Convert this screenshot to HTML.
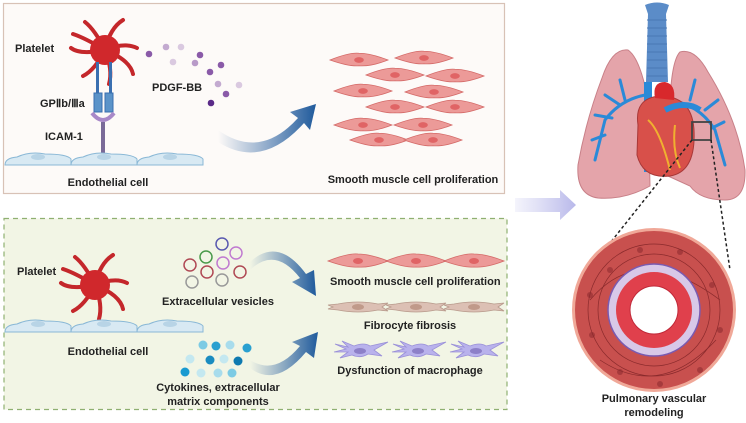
<!DOCTYPE html>
<html><head><meta charset="utf-8"><style>
html,body{margin:0;padding:0;background:#fff;}
svg{display:block;}
text{font-family:"Liberation Sans",sans-serif;font-weight:bold;fill:#222;}
</style></head><body>
<svg width="746" height="423" viewBox="0 0 746 423" xmlns="http://www.w3.org/2000/svg">
<defs>
<symbol id="smc" viewBox="-30 -8 60 16" overflow="visible">
<path d="M-30 0 Q-10 -8 0 -7 Q12 -7 30 0 Q12 7 0 6 Q-10 7 -30 0Z" fill="#ec9a98" stroke="#d46a68" stroke-width="0.8"/>
<ellipse cx="0" cy="0" rx="5" ry="3" fill="#e06465"/>
</symbol>
<symbol id="fib" viewBox="-30 -8 60 16" overflow="visible">
<path d="M-30 -2 L-20 -3 Q0 -7 20 -3 L30 -4 L24 0 L30 4 L20 3 Q0 7 -20 3 L-30 2 L-25 0Z" fill="#dcc0b4" stroke="#b89a8c" stroke-width="0.8"/>
<ellipse cx="0" cy="0" rx="6" ry="3" fill="#c09a8a"/>
</symbol>
<symbol id="mac" viewBox="-30 -10 60 20" overflow="visible">
<path d="M-25 -6 L-12 -3 L-18 -9 L-6 -4 Q4 -8 10 -4 L28 -8 L14 0 L22 6 L8 4 Q0 9 -8 5 L-20 8 L-12 2 L-26 2 L-14 -1Z" fill="#b9b2ec" stroke="#9a90d8" stroke-width="0.8"/>
<ellipse cx="0" cy="1" rx="6" ry="3" fill="#8d80c8"/>
</symbol>
<g id="endo">
<path d="M0 14 Q0 7 12 6 Q25 0 40 3 Q62 3 66 8 L66 14Z" fill="#d8e9f3" stroke="#8ab8d6"/>
<path d="M66 14 Q66 7 78 6 Q91 0 106 3 Q128 3 132 8 L132 14Z" fill="#d8e9f3" stroke="#8ab8d6"/>
<path d="M132 14 Q132 7 144 6 Q157 0 172 3 Q194 3 198 8 L198 14Z" fill="#d8e9f3" stroke="#8ab8d6"/>
<ellipse cx="33" cy="6" rx="7" ry="3" fill="#b8d4e6"/><ellipse cx="99" cy="6" rx="7" ry="3" fill="#b8d4e6"/><ellipse cx="165" cy="6" rx="7" ry="3" fill="#b8d4e6"/>
</g>
<symbol id="plt" viewBox="-40 -40 80 80" overflow="visible">
<g stroke="#c4272b" stroke-width="4" fill="none" stroke-linecap="round">
<path d="M0 0 Q-10 -20 -20 -28"/><path d="M0 0 Q5 -22 18 -30"/><path d="M0 0 Q20 -8 32 -2"/>
<path d="M0 0 Q25 10 28 24"/><path d="M0 0 Q8 20 4 34"/><path d="M0 0 Q-10 20 -22 26"/>
<path d="M0 0 Q-25 5 -34 -2"/><path d="M0 0 Q-20 -12 -32 -16"/>
</g>
<circle r="15" fill="#d0282c"/>
</symbol>
<linearGradient id="ag" x1="0" y1="0" x2="1" y2="0"><stop offset="0" stop-color="#2a5fa0" stop-opacity="0"/><stop offset="1" stop-color="#1f5a9c"/></linearGradient>
<linearGradient id="big" x1="0" y1="0" x2="1" y2="0"><stop offset="0" stop-color="#c8c8ee" stop-opacity="0.2"/><stop offset="1" stop-color="#b8b8ea"/></linearGradient>
</defs>

<!-- top box -->
<rect x="3.5" y="3.5" width="501" height="190" fill="#fdfaf8" stroke="#d8c2b6" stroke-width="1.2"/>
<use href="#plt" x="65" y="10" width="80" height="80"/>
<rect x="96" y="62" width="3" height="32" fill="#3a6fb0"/><rect x="109" y="62" width="3" height="32" fill="#3a6fb0"/>
<rect x="94" y="93" width="8" height="19" fill="#5b93c9" stroke="#3a6fb0"/><rect x="105" y="93" width="8" height="19" fill="#5b93c9" stroke="#3a6fb0"/>
<path d="M92 113 Q103 127 114 113" fill="none" stroke="#a888c8" stroke-width="4"/>
<rect x="101" y="122" width="4" height="31" fill="#7a6a98"/>
<use href="#endo" x="5" y="151"/>
<text x="15" y="52" font-size="11">Platelet</text>
<text x="40" y="107" font-size="11">GPⅡb/Ⅲa</text>
<text x="45" y="140" font-size="11">ICAM-1</text>
<text x="152" y="91" font-size="11">PDGF-BB</text>
<text x="108" y="186" font-size="11" text-anchor="middle">Endothelial cell</text>
<g fill="#8a5aa8">
<circle cx="149" cy="54" r="3.3"/><circle cx="166" cy="47" r="3.3" opacity=".5"/><circle cx="181" cy="47" r="3.3" opacity=".3"/><circle cx="200" cy="55" r="3.3"/>
<circle cx="173" cy="62" r="3.3" opacity=".3"/><circle cx="195" cy="63" r="3.3" opacity=".6"/><circle cx="221" cy="65" r="3.3"/><circle cx="210" cy="72" r="3.3"/>
<circle cx="218" cy="84" r="3.3" opacity=".5"/><circle cx="239" cy="85" r="3.3" opacity=".3"/><circle cx="226" cy="94" r="3.3"/><circle cx="211" cy="103" r="3.3" fill="#5a2a88"/>
</g>
<path d="M218 130 Q260 160 298 118 L290 112 L316 104 L310 130 L304 123 Q262 170 218 142Z" fill="url(#ag)"/>
<use href="#smc" x="330" y="52" width="58" height="16"/><use href="#smc" x="395" y="50" width="58" height="16"/>
<use href="#smc" x="366" y="67" width="58" height="16"/><use href="#smc" x="426" y="68" width="58" height="16"/>
<use href="#smc" x="334" y="83" width="58" height="16"/><use href="#smc" x="405" y="84" width="58" height="16"/>
<use href="#smc" x="366" y="99" width="58" height="16"/><use href="#smc" x="426" y="99" width="58" height="16"/>
<use href="#smc" x="334" y="117" width="58" height="16"/><use href="#smc" x="394" y="117" width="58" height="16"/>
<use href="#smc" x="350" y="132" width="58" height="16"/><use href="#smc" x="404" y="132" width="58" height="16"/>
<text x="413" y="183" font-size="11" text-anchor="middle">Smooth muscle cell proliferation</text>

<!-- big arrow -->
<path d="M515 198 L560 198 L560 190 L576 205 L560 220 L560 212 L515 212Z" fill="url(#big)"/>

<!-- bottom box -->
<rect x="4" y="218.5" width="503" height="191" fill="#f2f5e5" stroke="#8fb071" stroke-width="1.2" stroke-dasharray="5,4"/>
<use href="#plt" x="55" y="245" width="80" height="80"/>
<use href="#endo" x="5" y="318"/>
<text x="17" y="275" font-size="11">Platelet</text>
<text x="108" y="355" font-size="11" text-anchor="middle">Endothelial cell</text>
<g fill="none" stroke-width="1.5">
<circle cx="222" cy="244" r="6" stroke="#5a5ab0"/><circle cx="206" cy="257" r="6" stroke="#4a9a4a"/><circle cx="236" cy="253" r="6" stroke="#c07ad0"/>
<circle cx="190" cy="265" r="6" stroke="#b04a55"/><circle cx="207" cy="272" r="6" stroke="#b04a55"/><circle cx="223" cy="263" r="6" stroke="#c07ad0"/>
<circle cx="240" cy="272" r="6" stroke="#b04a55"/><circle cx="192" cy="282" r="6" stroke="#999"/><circle cx="222" cy="280" r="6" stroke="#999"/>
</g>
<text x="218" y="305" font-size="11" text-anchor="middle">Extracellular vesicles</text>
<g>
<circle cx="203" cy="345" r="4.5" fill="#7ccbe4"/><circle cx="216" cy="346" r="4.5" fill="#2aa0d0"/><circle cx="230" cy="345" r="4.5" fill="#a8dcec"/><circle cx="247" cy="348" r="4.5" fill="#2aa0d0"/>
<circle cx="190" cy="359" r="4.5" fill="#c4e8f0"/><circle cx="210" cy="360" r="4.5" fill="#1a8cc0"/><circle cx="224" cy="359" r="4.5" fill="#c4e8f0"/><circle cx="238" cy="361" r="4.5" fill="#0e7ab0"/>
<circle cx="185" cy="372" r="4.5" fill="#1a9ad0"/><circle cx="201" cy="373" r="4.5" fill="#c4e8f0"/><circle cx="218" cy="373" r="4.5" fill="#a8dcec"/><circle cx="232" cy="373" r="4.5" fill="#7ccbe4"/>
</g>
<text x="218" y="391" font-size="11" text-anchor="middle">Cytokines, extracellular</text>
<text x="218" y="405" font-size="11" text-anchor="middle">matrix components</text>
<path d="M250 270 Q275 246 300 278 L292 282 L316 296 L314 270 L306 274 Q278 236 250 262Z" fill="url(#ag)"/>
<path d="M250 360 Q275 376 300 346 L292 342 L318 332 L314 358 L306 352 Q276 388 250 368Z" fill="url(#ag)"/>
<use href="#smc" x="328" y="253" width="60" height="16"/><use href="#smc" x="386" y="253" width="60" height="16"/><use href="#smc" x="444" y="253" width="60" height="16"/>
<text x="330" y="285" font-size="11">Smooth muscle cell proliferation</text>
<use href="#fib" x="328" y="299" width="60" height="16"/><use href="#fib" x="386" y="299" width="60" height="16"/><use href="#fib" x="444" y="299" width="60" height="16"/>
<text x="410" y="329" font-size="11" text-anchor="middle">Fibrocyte fibrosis</text>
<use href="#mac" x="330" y="340" width="60" height="20"/><use href="#mac" x="388" y="340" width="60" height="20"/><use href="#mac" x="446" y="340" width="60" height="20"/>
<text x="410" y="374" font-size="11" text-anchor="middle">Dysfunction of macrophage</text>

<!-- lungs -->
<path d="M628 50 Q612 48 602 78 Q586 120 578 165 Q576 195 598 198 Q625 200 650 186 L648 100 Q640 58 628 50Z" fill="#e4a4aa" stroke="#c88088"/>
<path d="M680 52 Q695 48 708 72 Q738 120 745 170 Q746 200 725 200 Q700 200 690 186 L668 176 L670 100 Q672 60 680 52Z" fill="#e4a4aa" stroke="#c88088"/>
<path d="M645 5 Q657 0 669 5 L666 14 L668 82 L646 82 L648 14Z" fill="#5b8cc8"/>
<g stroke="#4a78b4" stroke-width="1">
<line x1="647" y1="20" x2="667" y2="20"/><line x1="647" y1="28" x2="667" y2="28"/><line x1="647" y1="36" x2="667" y2="36"/><line x1="647" y1="44" x2="667" y2="44"/><line x1="647" y1="52" x2="667" y2="52"/><line x1="647" y1="60" x2="667" y2="60"/><line x1="647" y1="68" x2="667" y2="68"/><line x1="647" y1="76" x2="667" y2="76"/>
</g>
<g stroke="#2a8ad8" stroke-width="3" fill="none" stroke-linecap="round">
<path d="M645 95 Q620 100 605 120 L595 160"/><path d="M620 105 L605 95"/><path d="M612 118 L595 115"/><path d="M605 135 L592 140"/><path d="M625 100 L620 80"/>
<path d="M670 100 Q700 105 715 130 L725 165"/><path d="M690 100 L695 80"/><path d="M705 110 L718 100"/><path d="M712 128 L724 122"/>
<rect x="644" y="82" width="8" height="90" fill="#2a8ad8" stroke="none"/>
</g>
<path d="M638 125 Q634 98 660 96 Q692 96 694 130 Q696 172 670 176 Q643 179 637 155Z" fill="#d8504a" stroke="#a83838"/>
<path d="M648 120 Q660 130 670 170 M675 125 Q672 150 680 168" stroke="#f0b030" stroke-width="2" fill="none"/>
<path d="M655 98 Q652 82 665 82 Q676 84 674 100Z" fill="#d8282c"/>
<path d="M665 110 Q685 100 700 110" stroke="#2a8ad8" stroke-width="6" fill="none"/>
<rect x="692" y="122" width="19" height="18" fill="none" stroke="#444" stroke-width="1.8"/>
<line x1="692" y1="140" x2="587" y2="272" stroke="#222" stroke-width="1.5" stroke-dasharray="3,2.5"/>
<line x1="711" y1="140" x2="730" y2="270" stroke="#222" stroke-width="1.5" stroke-dasharray="3,2.5"/>

<!-- vessel cross-section -->
<circle cx="654" cy="310" r="82" fill="#f0a898"/>
<circle cx="654" cy="310" r="79" fill="#c8504e"/>
<g fill="#a63a3c">
<circle cx="610" cy="270" r="3"/><circle cx="640" cy="250" r="3"/><circle cx="680" cy="252" r="3"/><circle cx="712" cy="285" r="3"/><circle cx="720" cy="330" r="3"/><circle cx="700" cy="370" r="3"/><circle cx="660" cy="384" r="3"/><circle cx="620" cy="372" r="3"/><circle cx="592" cy="335" r="3"/><circle cx="590" cy="295" r="3"/>
</g>
<g fill="none" stroke="#8a2a2c" stroke-width="0.7">
<circle cx="654" cy="310" r="66"/><circle cx="654" cy="310" r="56"/><path d="M590 300 Q640 240 720 300 M600 360 Q660 400 716 340"/>
</g>
<circle cx="654" cy="310" r="46" fill="#d8c8e8" stroke="#7a5ab0" stroke-width="1.5"/>
<circle cx="654" cy="310" r="38" fill="#e0404c"/>
<circle cx="654" cy="310" r="24" fill="#fff" stroke="#c02838"/>
<text x="654" y="402" font-size="11" text-anchor="middle">Pulmonary vascular</text>
<text x="654" y="416" font-size="11" text-anchor="middle">remodeling</text>
</svg>
</body></html>
